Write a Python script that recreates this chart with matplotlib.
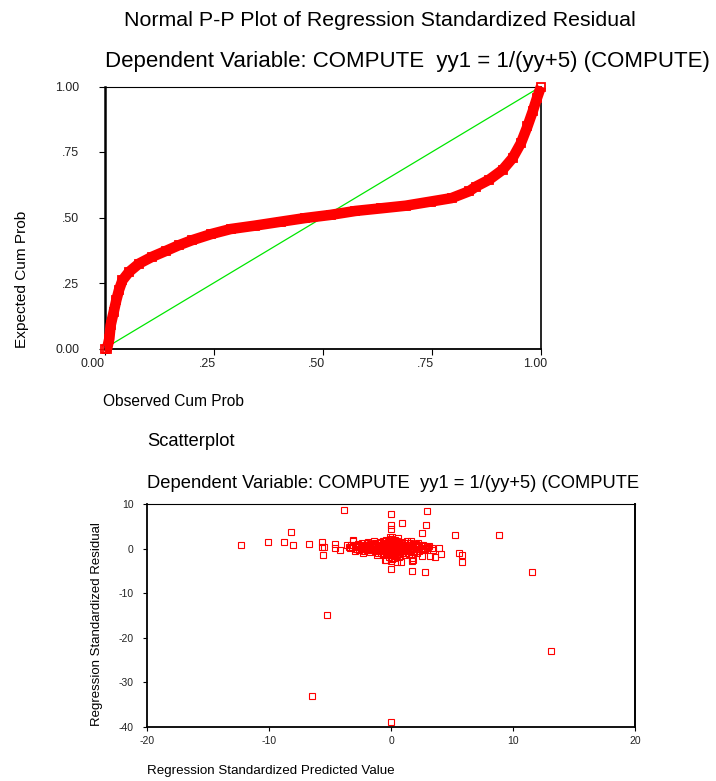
import matplotlib
matplotlib.use("Agg")
import matplotlib.pyplot as plt
from matplotlib.transforms import ScaledTranslation

# ---------------- data ----------------
# Normal P-P plot
obs_cum = [0.0, 0.006, 0.011, 0.014, 0.021, 0.027, 0.033, 0.041, 0.056, 0.079,
           0.109, 0.14, 0.17, 0.2, 0.245, 0.289, 0.345, 0.404, 0.46, 0.518,
           0.575, 0.633, 0.69, 0.748, 0.795, 0.835, 0.851, 0.881, 0.912, 0.935,
           0.954, 0.969, 0.981, 0.991, 1.0]
exp_cum = [0.0, 0.0, 0.037, 0.088, 0.139, 0.184, 0.222, 0.26, 0.292, 0.324,
           0.35, 0.372, 0.394, 0.413, 0.437, 0.456, 0.469, 0.484, 0.498, 0.51,
           0.525, 0.535, 0.545, 0.561, 0.574, 0.6, 0.618, 0.644, 0.682, 0.727,
           0.784, 0.848, 0.905, 0.957, 1.0]
diag_x = [0.0, 1.0]
diag_y = [0.0, 1.0]
pp_ticks = [0.0, 0.25, 0.5, 0.75, 1.0]
pp_ticklabels = ["0.00", ".25", ".50", ".75", "1.00"]

# Scatterplot: standardized predicted value vs standardized residual
pred_outlier = [-12.3, -10.1, -8.8, -8.2, -8.05, -6.75, -5.66, -5.63, -5.47, -5.6,
                -4.57, -4.57, -4.2, -3.86, -5.3, -6.5, 0.0, 0.0, 0.0, 0.0,
                0.0, 2.96, 0.92, 2.88, 2.55, 5.25, 8.85, 3.9, 4.1, 3.6,
                5.52, 5.77, 5.77, 2.77, 1.73, 1.73, 1.73, 0.45, -0.45, 11.55,
                13.1, -3.45, -3.1]
resid_outlier = [0.75, 1.4, 1.4, 3.7, 0.75, 0.96, 1.4, 0.3, 0.43, -1.43,
                 0.96, 0.07, -0.3, 8.65, -14.9, -33.1, -38.9, 7.8, 5.4, 4.5,
                 -4.6, 8.4, 5.7, 5.4, 3.57, 3.05, 3.05, 0.07, -1.2, -1.8,
                 -0.9, -1.43, -3.1, -5.2, -5.0, -2.8, -2.2, -3.1, -2.6, -5.2,
                 -23.0, 0.45, 1.8]
pred_cluster = [-3.6, -3.4, -3.3, -3.1, -3.0, -2.9, -2.8, -2.7, -2.6, -2.5,
                -2.4, -2.3, -2.2, -2.1, -2.0, -1.9, -1.8, -1.7, -1.6, -1.5,
                -1.4, -1.3, -1.2, -1.1, -1.0, -0.9, -0.8, -0.7, -0.6, -0.5,
                -0.4, -0.3, -0.2, -0.1, 0.0, 0.0, 0.0, 0.0, -0.1, 0.1,
                0.1, 0.2, 0.2, 0.3, 0.3, 0.4, 0.4, 0.5, 0.55, 0.6,
                0.7, 0.8, 0.83, 0.9, 1.0, 1.1, 1.2, 1.3, 1.4, 1.5,
                1.65, 1.7, 1.8, 1.9, 2.0, 2.1, 2.2, 2.4, 2.5, 2.6,
                2.8, 3.0, 3.15, 3.3, -0.3, -0.2, 0.1, 0.2, -0.1, 0.05,
                0.15, -0.25, 0.35, -0.45, 0.45, -0.6, 0.6, -0.75, 0.75, -0.85,
                0.9, -1.0, 1.0, -1.25, 1.2, -1.45, 1.35, -1.6, 1.6, -1.85,
                1.8, -2.05, 2.0, -2.3, 2.3, -2.6, 2.7, 0.0, 0.0, 0.0,
                0.0, -0.05, 0.05, 0.25, -0.15, 0.5, -0.55, 0.65, -0.65, 1.1,
                -1.1, 1.5, -1.5, 2.2, -2.0,
                -3.2, -3.0, -2.9, -2.75, -2.65, -2.5, -2.45, -2.35, -2.25, -2.15,
                -2.05, -1.95, -1.9, -1.75, -1.7, -1.65, -1.55, -1.45, -1.4, -1.35,
                -1.3, -1.2, -1.15, -1.05, -0.95, -0.95, -0.9, -0.8, -0.75, -0.7,
                -0.65, -0.6, -0.5, -0.5, -0.45, -0.4, -0.35, -0.3, -0.25, -0.2,
                -0.15, -0.1, -0.05, 0.0, 0.05, 0.1, 0.15, 0.2, 0.25, 0.3,
                0.35, 0.4, 0.45, 0.5, 0.55, 0.6, 0.7, 0.75, 0.8, 0.85,
                0.95, 1.05, 1.15, 1.25, 1.3, 1.45, 1.55, 1.6, 1.75, 1.85,
                1.95, 2.05, 2.15, 2.3, 2.45, 2.6, 2.75, 2.9, 3.1, 3.4]
resid_cluster = [0.9, 0.2, 0.9, 1.9, -0.5, 0.5, 0.0, 1.0, -0.3, 0.6,
                 1.3, -1.0, 0.2, 0.8, -0.4, 1.5, 0.3, -0.8, 0.9, 0.0,
                 1.6, -0.5, -1.4, 0.6, 1.2, -0.2, 0.4, -1.1, 1.8, -2.5,
                 0.7, -0.6, 1.0, -1.5, 0.3, 2.2, 1.5, -2.0, 2.5, -2.3,
                 1.8, -1.0, 0.6, 2.0, -1.7, 0.1, 1.2, -0.7, 2.3, 0.9,
                 -1.3, 0.4, -2.9, 1.4, -0.3, 0.8, -1.0, 1.7, 0.2, -0.6,
                 1.6, 0.5, -2.55, -0.2, 1.0, -0.9, 0.3, 0.8, -1.6, 0.0,
                 0.6, 0.4, -1.6, 0.2, 0.2, -0.4, 0.0, 0.3, 0.8, -0.8,
                 1.1, 1.4, -0.3, -0.9, 0.7, 0.1, -0.1, 0.9, 1.0, -0.5,
                 -0.6, 0.3, 0.5, 0.5, 0.1, -0.3, -0.4, 0.4, 0.8, 0.7,
                 0.2, 0.3, -0.5, 0.5, 0.5, 0.4, -0.4, -1.2, 1.0, -0.5,
                 0.6, -2.8, 2.6, -2.0, -1.9, 1.6, 1.3, -1.8, -1.4, -1.5,
                 -0.9, 1.3, 1.1, 1.2, 1.2,
                 0.4, 0.8, -0.2, 0.3, 0.9, -0.1, 0.4, 0.9, -0.5, 0.0,
                 0.6, -0.2, 0.9, 0.1, 1.1, -0.4, 0.5, 1.0, -0.1, 0.3,
                 1.3, -0.6, 0.2, 0.9, -0.4, 0.5, 1.4, -0.9, 0.0, 0.7,
                 1.6, -0.5, 0.3, 1.0, -1.3, 1.9, -0.2, 0.6, -1.0, 1.6,
                 0.1, -0.7, 1.2, -0.2, 0.7, -1.3, 2.0, -0.4, 0.9, -0.9,
                 1.5, -0.2, -1.5, 0.4, 1.1, -0.8, 0.3, -0.3, 1.2, -1.0,
                 0.6, 0.0, 1.3, -0.6, 0.4, -1.2, 0.2, -0.3, 1.1, -0.8,
                 0.4, -0.1, 0.7, -0.6, 0.2, 0.9, -0.2, 0.1, 0.6, -0.3]
sc_xticks = [-20, -10, 0, 10, 20]
sc_yticks = [-40, -30, -20, -10, 0, 10]

# ---------------- layout ----------------
W, H = 716, 781
DPI = 100
FONT = "Liberation Sans"
plt.rcParams["font.family"] = [FONT, "DejaVu Sans"]
plt.rcParams["axes.unicode_minus"] = False

fig = plt.figure(figsize=(W / DPI, H / DPI), dpi=DPI)
fig.patch.set_facecolor("white")


def px_axes(left, top, right, bottom):
    return fig.add_axes([left / W, 1 - bottom / H, (right - left) / W, (bottom - top) / H])


# ---- top: P-P plot ----
ax1 = px_axes(104.5, 86.5, 541, 348.5)
ax1.plot(diag_x, diag_y, color="#00e600", lw=0.9, zorder=2)
ax1.plot(obs_cum, exp_cum, "-", color="red", lw=7.6, solid_joinstyle="round",
         solid_capstyle="butt", zorder=3, clip_on=False)
ax1.plot(obs_cum, exp_cum, "s", mfc="none", mec="red", ms=6.0, mew=1.3,
         zorder=4, clip_on=False)
ax1.set_xlim(0, 1)
ax1.set_ylim(0, 1)
ax1.set_xticks(pp_ticks)
ax1.set_xticklabels(pp_ticklabels)
ax1.set_yticks(pp_ticks)
ax1.set_yticklabels(pp_ticklabels)
ax1.tick_params(axis="both", direction="out", length=4.3, width=0.8,
                labelsize=8.9, colors="black", labelcolor="#222222")
ax1.tick_params(axis="x", pad=2.5)
ax1.tick_params(axis="y", pad=14)
for i, lab in enumerate(ax1.get_xticklabels()):
    dx = -12 if i == 0 else -6
    lab.set_transform(lab.get_transform() + ScaledTranslation(dx / DPI, 0, fig.dpi_scale_trans))
ax1.spines["left"].set_linewidth(1.8)
ax1.spines["bottom"].set_linewidth(1.3)
ax1.spines["top"].set_linewidth(0.8)
ax1.spines["right"].set_linewidth(1.2)

# ---- bottom: scatterplot ----
ax2 = px_axes(147, 504, 635.5, 727)
ax2.plot(pred_cluster, resid_cluster, "s", mfc="none", mec="red", ms=4.1, mew=0.8,
         zorder=3, clip_on=False)
ax2.plot(pred_outlier, resid_outlier, "s", mfc="none", mec="red", ms=4.1, mew=0.8,
         zorder=3, clip_on=False)
ax2.set_xlim(-20, 20)
ax2.set_ylim(-40, 10)
ax2.set_xticks(sc_xticks)
ax2.set_yticks(sc_yticks)
ax2.tick_params(axis="both", direction="out", length=3, width=0.8,
                labelsize=7.5, colors="black", labelcolor="#222222")
ax2.tick_params(axis="x", pad=3.5)
ax2.tick_params(axis="y", pad=6.5)
ax2.spines["left"].set_linewidth(1.3)
ax2.spines["bottom"].set_linewidth(1.3)
ax2.spines["top"].set_linewidth(0.8)
ax2.spines["right"].set_linewidth(1.4)

# ---- texts fitted to measured widths ----
renderer = fig.canvas.get_renderer()


def add_text(s, x, y, size, rotation=0, ha="left"):
    return fig.text(x / W, 1 - y / H, s, fontsize=size, ha=ha, va="center",
                    rotation=rotation, color="black", family=FONT)


def fit_size(s, width, rotation=0):
    t = add_text(s, 0, 0, 10, rotation)
    bb = t.get_window_extent(renderer)
    w = bb.height if rotation else bb.width
    t.remove()
    return 10 * width / w


sub_top = "Dependent Variable: COMPUTE  yy1 = 1/(yy+5) (COMPUTE)"
size_top = fit_size(sub_top, 605)
add_text("Normal P-P Plot of Regression Standardized Residual", 124, 20, size_top * 0.96)
add_text(sub_top, 105, 62, size_top)

sub_bot = "Dependent Variable: COMPUTE  yy1 = 1/(yy+5) (COMPUTE"
size_bot = fit_size(sub_bot, 492)
add_text("Scatterplot", 147, 441, size_bot)
add_text(sub_bot, 147, 483, size_bot)

add_text("Expected Cum Prob", 22, 279, fit_size("Expected Cum Prob", 138, 90), 90, "center")
add_text("Observed Cum Prob", 103, 401, fit_size("Observed Cum Prob", 142))
add_text("Regression Standardized Residual", 97, 624.5,
         fit_size("Regression Standardized Residual", 205, 90), 90, "center")
add_text("Regression Standardized Predicted Value", 147, 771,
         fit_size("Regression Standardized Predicted Value", 248))

fig.savefig("out.png", dpi=DPI, facecolor="white")
